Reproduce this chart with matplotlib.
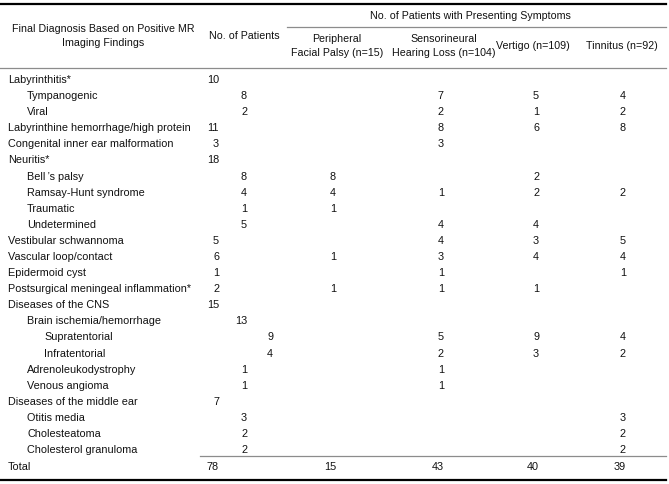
import matplotlib.pyplot as plt

plt.rcParams['font.family'] = ['Liberation Sans', 'DejaVu Sans']

# diagnosis rows: label, indent level, no. of patients, then symptom counts (None = blank)
labels = [
    "Labyrinthitis*", "Tympanogenic", "Viral",
    "Labyrinthine hemorrhage/high protein", "Congenital inner ear malformation",
    "Neuritis*", "Bell\u2009\u2019s palsy", "Ramsay-Hunt syndrome", "Traumatic", "Undetermined",
    "Vestibular schwannoma", "Vascular loop/contact", "Epidermoid cyst",
    "Postsurgical meningeal inflammation*", "Diseases of the CNS",
    "Brain ischemia/hemorrhage", "Supratentorial", "Infratentorial",
    "Adrenoleukodystrophy", "Venous angioma", "Diseases of the middle ear",
    "Otitis media", "Cholesteatoma", "Cholesterol granuloma",
]
levels = [0, 1, 1, 0, 0, 0, 1, 1, 1, 1, 0, 0, 0, 0, 0, 1, 2, 2, 1, 1, 0, 1, 1, 1]
n_patients = [10, 8, 2, 11, 3, 18, 8, 4, 1, 5, 5, 6, 1, 2, 15, 13, 9, 4, 1, 1, 7, 3, 2, 2]
facial = [None, None, None, None, None, None, 8, 4, 1, None, None, 1, None, 1,
          None, None, None, None, None, None, None, None, None, None]
hearing = [None, 7, 2, 8, 3, None, None, 1, None, 4, 4, 3, 1, 1,
           None, None, 5, 2, 1, 1, None, None, None, None]
vertigo = [None, 5, 1, 6, None, None, 2, 2, None, 4, 3, 4, None, 1,
           None, None, 9, 3, None, None, None, None, None, None]
tinnitus = [None, 4, 2, 8, None, None, None, 2, None, None, 5, 4, 1, None,
            None, None, 4, 2, None, None, None, 3, 2, 2]
totals = [78, 15, 43, 40, 39]

symptom_headers = ["Peripheral\nFacial Palsy (n=15)", "Sensorineural\nHearing Loss (n=104)",
                   "Vertigo (n=109)", "Tinnitus (n=92)"]

W, H = 669, 484
fig = plt.figure(figsize=(W / 100, H / 100), dpi=100)
ax = fig.add_axes([0, 0, 1, 1])
ax.set_xlim(0, W)
ax.set_ylim(H, 0)
ax.axis('off')

fs = 7.8
hfs = 7.7
tc = '#111111'
gray = '#8c8c8c'

# rules
ax.plot([0, 666], [4, 4], color='black', lw=1.6)
ax.plot([287, 666], [27, 27], color=gray, lw=0.9)
ax.plot([0, 666], [68, 68], color=gray, lw=0.9)
ax.plot([200, 666], [456, 456], color=gray, lw=0.9)
ax.plot([0, 666], [480, 480], color='black', lw=1.6)

# headers
ax.text(103, 36, "Final Diagnosis Based on Positive MR\nImaging Findings", ha='center', va='center',
        fontsize=hfs, color=tc, linespacing=1.5)
ax.text(244, 36, "No. of Patients", ha='center', va='center', fontsize=hfs, color=tc)
ax.text(470, 16, "No. of Patients with Presenting Symptoms", ha='center', va='center',
        fontsize=hfs, color=tc)
sym_centers = [337, 444, 533, 622]
for cx, h in zip(sym_centers, symptom_headers):
    ax.text(cx, 46, h, ha='center', va='center', fontsize=hfs, color=tc, linespacing=1.4)

# body
label_x = [8, 27, 44]
num_x = [219, 247, 273]
sym_right = [336, 444, 539, 626]
y0, dy = 80, 16.09
for i, lab in enumerate(labels):
    y = y0 + i * dy
    lv = levels[i]
    ax.text(label_x[lv], y, lab, ha='left', va='center', fontsize=fs, color=tc)
    ax.text(num_x[lv], y, str(n_patients[i]), ha='right', va='center', fontsize=fs, color=tc)
    for xr, col in zip(sym_right, [facial, hearing, vertigo, tinnitus]):
        if col[i] is not None:
            ax.text(xr, y, str(col[i]), ha='right', va='center', fontsize=fs, color=tc)

ty = 467
ax.text(8, ty, "Total", ha='left', va='center', fontsize=fs, color=tc)
for xr, v in zip([219] + sym_right, totals):
    ax.text(xr, ty, str(v), ha='right', va='center', fontsize=fs, color=tc)

fig.savefig('out.png', dpi=100)
